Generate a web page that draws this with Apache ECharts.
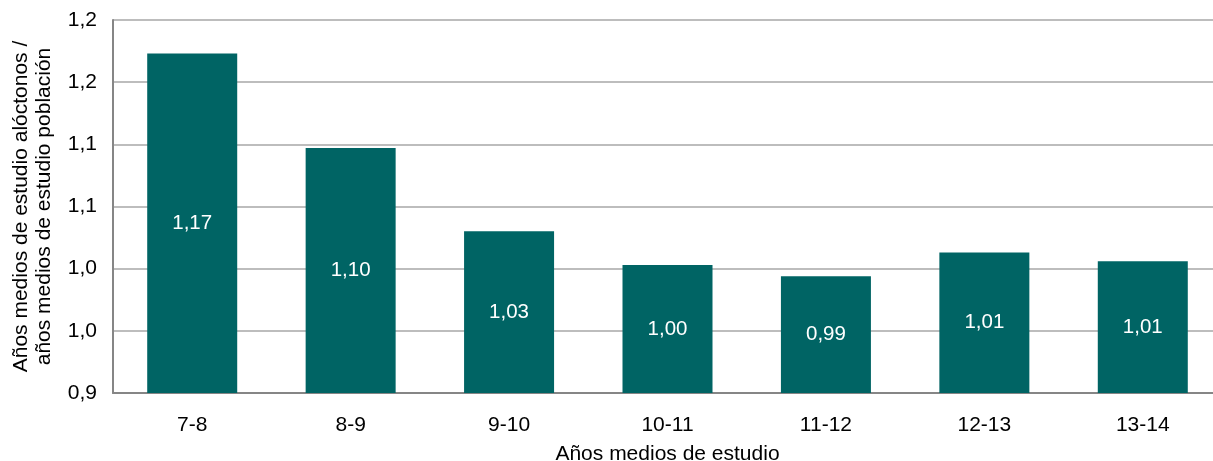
<!DOCTYPE html>
<html>
<head>
<meta charset="utf-8">
<script src="https://cdn.jsdelivr.net/npm/echarts@6/dist/echarts.min.js"></script>
<style>html,body{margin:0;padding:0;background:#fff}#c{width:1213px;height:461px}</style>
</head>
<body>
<div id="c"></div>
<script>
const categories = ['7-8', '8-9', '9-10', '10-11', '11-12', '12-13', '13-14'];
const values = [1.173, 1.097, 1.030, 1.003, 0.994, 1.013, 1.006];
const yTickLabels = ['0,9', '1,0', '1,0', '1,1', '1,1', '1,2', '1,2'];
const yName = 'Años medios de estudio alóctonos /\naños medios de estudio población';
const xName = 'Años medios de estudio';

const font = 'Liberation Sans, Arial, sans-serif';
const chart = echarts.init(document.getElementById('c'));
chart.setOption({
  animation: false,
  backgroundColor: '#fff',
  grid: { left: 113, right: -9, top: 20, bottom: 68, containLabel: false, outerBoundsMode: 'none' },
  xAxis: {
    type: 'category',
    data: categories,
    name: xName,
    nameLocation: 'middle',
    nameGap: 51,
    nameTextStyle: { fontFamily: font, fontSize: 21, color: '#000' },
    axisLine: { lineStyle: { color: '#868686', width: 2 } },
    axisTick: { show: false },
    axisLabel: { fontFamily: font, fontSize: 21, color: '#000', margin: 22 }
  },
  yAxis: {
    type: 'value',
    min: 0.9, max: 1.2, interval: 0.05,
    name: yName,
    nameLocation: 'middle',
    nameGap: 57,
    nameTextStyle: { fontFamily: font, fontSize: 21, color: '#000', lineHeight: 23 },
    axisLine: { show: true, lineStyle: { color: '#868686', width: 2 } },
    axisTick: { show: false },
    splitLine: { lineStyle: { color: '#bdbdbd', width: 2 } },
    axisLabel: {
      fontFamily: font, fontSize: 21, color: '#000', margin: 16,
      formatter: v => yTickLabels[Math.round((v - 0.9) / 0.05)]
    }
  },
  series: [{
    type: 'bar',
    data: values,
    barWidth: 90,
    itemStyle: { color: '#006464' },
    label: {
      show: true, position: 'inside', color: '#fff',
      fontFamily: font, fontSize: 20.5,
      formatter: p => p.value.toFixed(2).replace('.', ',')
    }
  }]
});
</script>
</body>
</html>
